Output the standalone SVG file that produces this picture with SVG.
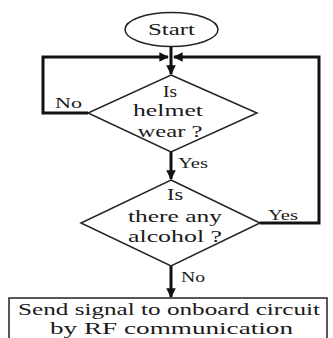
<svg xmlns="http://www.w3.org/2000/svg" width="333" height="338" viewBox="0 0 333 338" font-family="'Liberation Serif', 'Times New Roman', 'DejaVu Serif', serif">
<style>
.shape{fill:#fff;stroke:#222;stroke-width:1.5}
.conn{fill:none;stroke:#111;stroke-width:3}
text{font-family:'Liberation Serif','Times New Roman','DejaVu Serif',serif;font-size:17px;fill:#1a1a1a;text-anchor:middle}
.lbl{font-size:15px;text-anchor:start}
</style>
<defs>
<marker id="ah" viewBox="0 0 10 10" refX="9" refY="5" markerWidth="3.2" markerHeight="3.2" orient="auto" markerUnits="strokeWidth">
<path d="M0,0 L10,5 L0,10 Z" fill="#111"/>
</marker>
</defs>
<rect width="333" height="338" fill="#fff"/>
<g id="connectors">
<line class="conn" x1="171" y1="46" x2="171" y2="74" marker-end="url(#ah)"/>
<polyline class="conn" points="88,113 43,113 43,57 168,57" marker-end="url(#ah)"/>
<polyline class="conn" points="260,223 319,223 319,57 174,57" marker-end="url(#ah)"/>
<line class="conn" x1="171" y1="152" x2="171" y2="179" marker-end="url(#ah)"/>
<line class="conn" x1="171" y1="266" x2="171" y2="297" marker-end="url(#ah)"/>
<text class="lbl" x="55" y="108" textLength="27" lengthAdjust="spacingAndGlyphs">No</text>
<text class="lbl" x="178" y="168" textLength="30" lengthAdjust="spacingAndGlyphs">Yes</text>
<text class="lbl" x="268" y="220" textLength="30" lengthAdjust="spacingAndGlyphs">Yes</text>
<text class="lbl" x="181" y="282" textLength="24" lengthAdjust="spacingAndGlyphs">No</text>
</g>
<g id="start">
<ellipse class="shape" cx="171.5" cy="29.5" rx="46.5" ry="17"/>
<text x="171.5" y="34.5" textLength="47" lengthAdjust="spacingAndGlyphs">Start</text>
</g>
<g id="helmet">
<polygon class="shape" points="171,75 257,113 171,152 88,113"/>
<text x="170" y="97" textLength="14" lengthAdjust="spacingAndGlyphs">Is</text>
<text x="168" y="116" textLength="70" lengthAdjust="spacingAndGlyphs">helmet</text>
<text x="170" y="137" textLength="65" lengthAdjust="spacingAndGlyphs">wear ?</text>
</g>
<g id="alcohol">
<polygon class="shape" points="171,180 260,223 171,266 81,223"/>
<text x="175" y="200" textLength="16" lengthAdjust="spacingAndGlyphs">Is</text>
<text x="175" y="222" textLength="94" lengthAdjust="spacingAndGlyphs">there any</text>
<text x="175" y="242" textLength="94" lengthAdjust="spacingAndGlyphs">alcohol ?</text>
</g>
<g id="send">
<rect class="shape" x="9" y="298" width="318" height="50"/>
<text x="169" y="315" textLength="302" lengthAdjust="spacingAndGlyphs">Send signal to onboard circuit</text>
<text x="171.5" y="334" textLength="243" lengthAdjust="spacingAndGlyphs">by RF communication</text>
</g>
</svg>
